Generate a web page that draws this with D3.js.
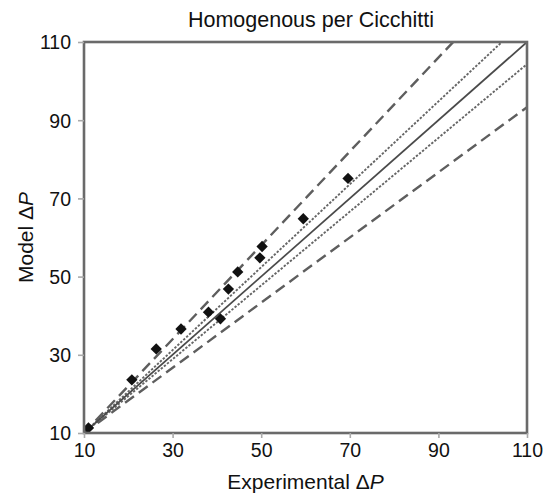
<!DOCTYPE html>
<html><head><meta charset="utf-8">
<script src="https://cdn.jsdelivr.net/npm/d3@7/dist/d3.min.js"></script>
<style>body{margin:0;background:#fff}svg{display:block}text{font-family:"Liberation Sans",Arial,sans-serif;fill:#111}</style>
</head><body><svg id="c" width="547" height="498"></svg>
<script>
const expDP = [11, 20.8, 26.3, 31.9, 38.1, 40.8, 42.6, 44.7, 49.7, 50.2, 59.5, 69.6];
const modelDP = [11.3, 23.6, 31.5, 36.6, 40.9, 39.2, 46.8, 51.2, 54.8, 57.7, 64.8, 75.1];
const tickValues = [10, 30, 50, 70, 90, 110];
const bandSlopes = [1.2, 1/1.2, 1.06, 1/1.06];
const bandStyles = ["dashed", "dashed", "dotted", "dotted"];

const svg = d3.select("#c");
const m = {l:84, r:527, t:42, b:433};
const x = d3.scaleLinear().domain([10,110]).range([m.l,m.r]);
const y = d3.scaleLinear().domain([10,110]).range([m.b,m.t]);

svg.append("defs").append("clipPath").attr("id","clip").append("rect")
  .attr("x",m.l).attr("y",m.t).attr("width",m.r-m.l).attr("height",m.b-m.t);

const g = svg.append("g").attr("clip-path","url(#clip)");
g.selectAll("line.band").data(bandSlopes).join("line").attr("class","band")
  .attr("x1",x(10)).attr("y1",y(10))
  .attr("x2",x(110)).attr("y2",s=>y(10+s*100))
  .attr("stroke", (s,i)=> bandStyles[i]==="dashed" ? "#5e5e5e" : "#666")
  .attr("stroke-width",(s,i)=> bandStyles[i]==="dashed" ? 2.4 : 1.9)
  .attr("stroke-dasharray",(s,i)=> bandStyles[i]==="dashed" ? "11,6" : "2.4,1.6");
g.append("line").attr("x1",x(10)).attr("y1",y(10)).attr("x2",x(110)).attr("y2",y(110))
  .attr("stroke","#4a4a4a").attr("stroke-width",1.7);

const sym = d3.symbol().type(d3.symbolSquare).size(64);
g.selectAll("path.pt").data(expDP.map((v,i)=>[v,modelDP[i]])).join("path").attr("class","pt")
  .attr("d",sym).attr("fill","#111")
  .attr("transform",d=>`translate(${x(d[0])},${y(d[1])}) rotate(45)`);

svg.append("rect").attr("x",m.l).attr("y",m.t).attr("width",m.r-m.l).attr("height",m.b-m.t)
  .attr("fill","none").attr("stroke","#6a6a6a").attr("stroke-width",2.6);

const xa = svg.append("g").attr("transform",`translate(0,${m.b})`)
  .call(d3.axisBottom(x).tickValues(tickValues).tickSize(5).tickPadding(4));
const ya = svg.append("g").attr("transform",`translate(${m.l},0)`)
  .call(d3.axisLeft(y).tickValues(tickValues).tickSize(6).tickPadding(7));
[xa,ya].forEach(a=>{
  a.select(".domain").remove();
  a.selectAll(".tick line").attr("stroke","#aaa").attr("stroke-width",1.6);
  a.selectAll(".tick text").attr("font-size",19.5).attr("fill","#111")
   .style("font-family",'"Liberation Sans",Arial,sans-serif');
});
xa.selectAll(".tick text").attr("dy","0.75em");
ya.selectAll(".tick text").attr("dy","0.35em");

svg.append("text").attr("x",311).attr("y",27).attr("text-anchor","middle")
  .attr("font-size",21.5).text("Homogenous per Cicchitti");

const xt = svg.append("text").attr("x",(m.l+m.r)/2).attr("y",489).attr("text-anchor","middle").attr("font-size",21);
xt.append("tspan").text("Experimental \u0394");
xt.append("tspan").attr("font-style","italic").text("P");

const yt = svg.append("text").attr("transform",`translate(33,${(m.t+m.b)/2}) rotate(-90)`)
  .attr("text-anchor","middle").attr("font-size",21);
yt.append("tspan").text("Model \u0394");
yt.append("tspan").attr("font-style","italic").text("P");
</script></body></html>
